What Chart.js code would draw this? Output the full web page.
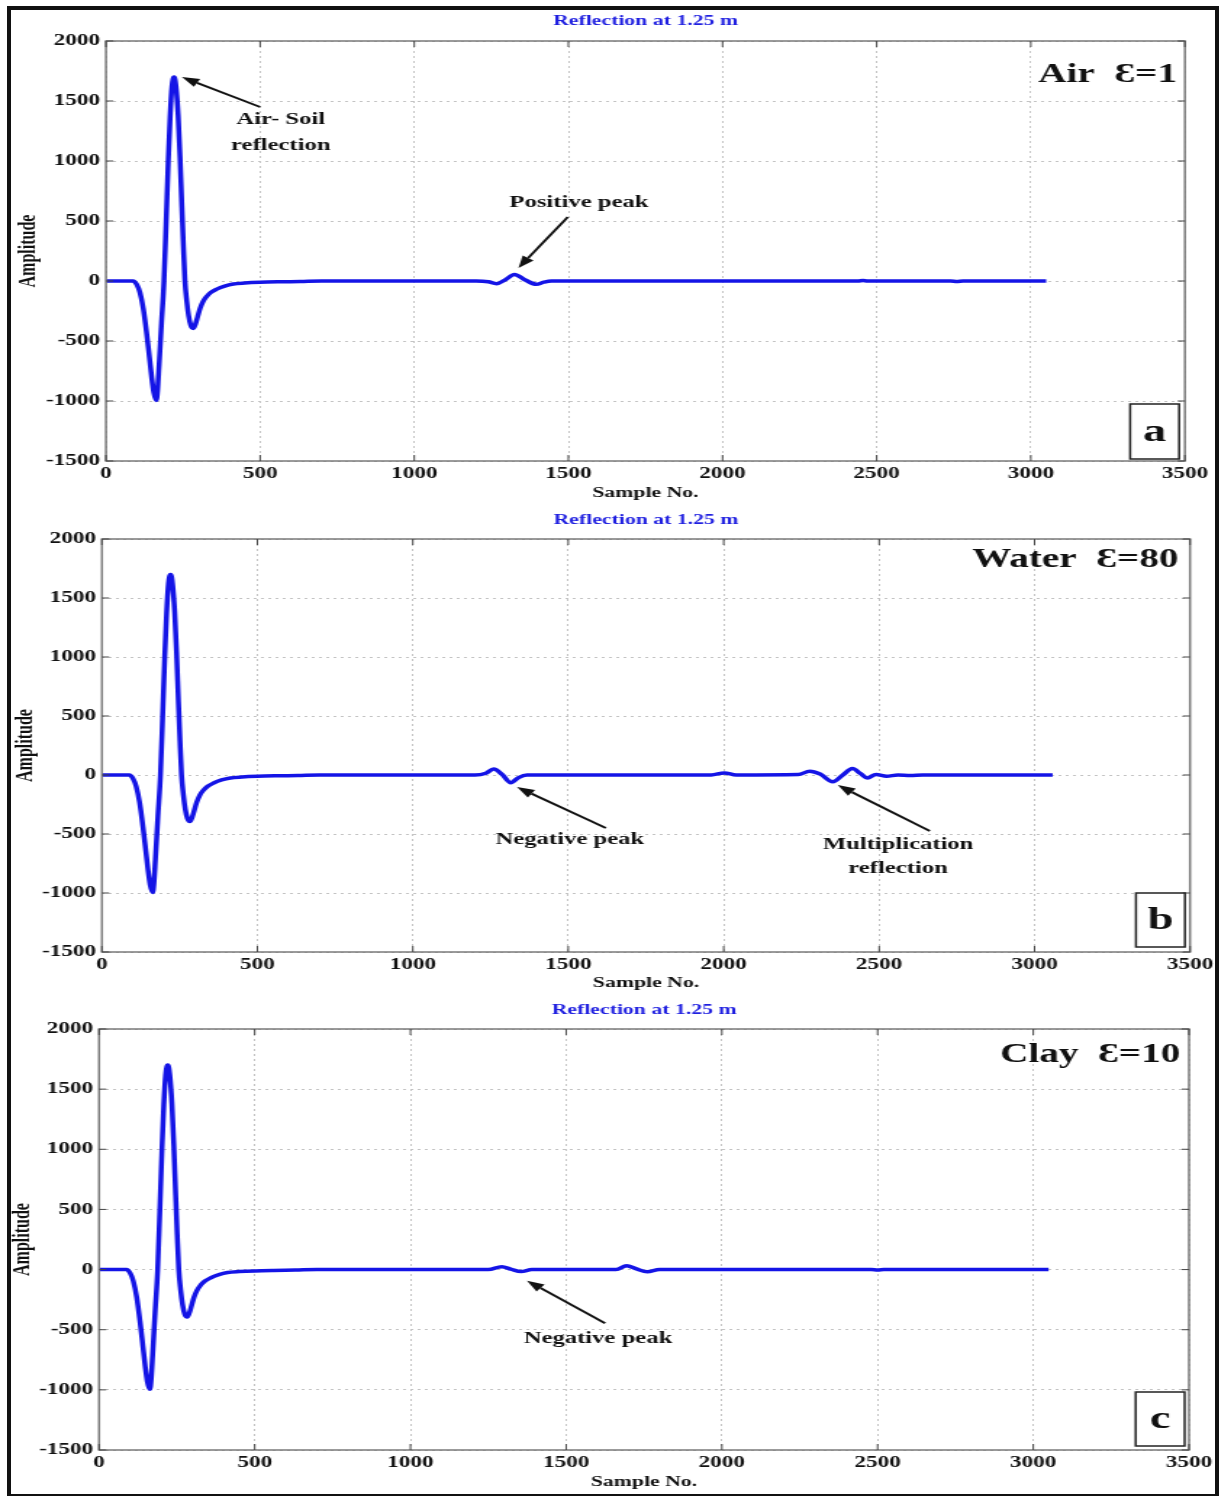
<!DOCTYPE html>
<html>
<head>
<meta charset="utf-8">
<script src="https://cdn.jsdelivr.net/npm/chart.js@4.4.0/dist/chart.umd.min.js"></script>
<style>
    html, body { margin: 0; padding: 0; background: #fff; }
    body { width: 1220px; height: 1496px; position: relative; overflow: hidden; }
    /* the source figure is stretched sideways, so every panel is drawn narrow and widened */
    .panel { position: absolute; left: 0; transform: scaleX(1.45); transform-origin: 0 0; }
    .panel canvas { display: block; }
    #frame { position: absolute; left: 7px; top: 6px; width: 1212px; height: 1492px; border: 4px solid #111; box-sizing: border-box; pointer-events: none; }
</style>
</head>
<body>
<div class="panel" style="top: 0px;"><canvas id="chartAir" width="842" height="504"></canvas></div>
<div class="panel" style="top: 504px;"><canvas id="chartWater" width="842" height="494"></canvas></div>
<div class="panel" style="top: 998px;"><canvas id="chartClay" width="842" height="498"></canvas></div>
<div id="frame"></div>
<script>
const xTicks = [0, 500, 1000, 1500, 2000, 2500, 3000, 3500];
const yTicks = [-1500, -1000, -500, 0, 500, 1000, 1500, 2000];
const chartTitle = 'Reflection at 1.25 m';
const xTitle = 'Sample No.';
const yTitle = 'Amplitude';

// direct air-soil wavelet (same in the three traces)
const directSamples = [0, 60, 88, 100, 110, 121, 132, 141, 148, 155, 163, 167, 172, 180, 188, 195, 202, 208, 214, 221,
    227, 234, 240, 246, 251, 256, 262, 268, 275, 283, 290, 297, 305, 315, 326, 340, 359, 385, 413, 450, 500, 560, 630, 700];
const directAmps = [0, 0, 0, -30, -95, -230, -440, -640, -800, -930, -995, -920, -710, -350, -10, 480, 1000, 1370, 1620, 1700,
    1620, 1380, 1040, 620, 290, 0, -170, -290, -370, -395, -360, -300, -230, -170, -130, -95, -68, -42, -25, -17, -11, -7, -4, 0];

// rest of each trace
const airSamples = [1200, 1240, 1267, 1296, 1325, 1360, 1396, 1420, 1445, 2440, 2455, 2470, 2740, 2760, 2780, 3050];
const airAmps = [0, -6, -22, 12, 55, 8, -28, -10, 0, 0, 4, 0, 0, -4, 0, 0];

const waterSamples = [1200, 1235, 1260, 1287, 1315, 1340, 1367, 1960, 2002, 2040, 2240, 2277, 2310, 2351, 2383, 2414,
    2440, 2462, 2490, 2524, 2560, 2600, 2640, 3058];
const waterAmps = [0, 15, 50, 5, -65, -22, 0, 0, 18, 0, 4, 32, 8, -57, 0, 55, 12, -25, 5, -10, 0, -5, 0, 0];

const claySamples = [1250, 1293, 1322, 1355, 1390, 1660, 1694, 1726, 1760, 1800, 2480, 2500, 2520, 3049];
const clayAmps = [0, 24, 4, -17, 0, 0, 32, 5, -18, 0, 0, -3, 0, 0];

const SERIF = "'Liberation Serif', 'Times New Roman', serif";
const LINE_BLUE = '#1414e6';
const CANVAS_W = 842;

function trace(xs, ys) {
    return directSamples.map((x, i) => ({ x, y: directAmps[i] }))
        .concat(xs.map((x, i) => ({ x, y: ys[i] })));
}

const panels = [
    {
        id: 'chartAir', height: 504, areaTop: 41, areaBottom: 461, areaLeft: 73.1, areaRight: 817.2,
        titleY: 21, xTitleY: 493, yTitleX: 19.7,
        points: trace(airSamples, airAmps),
        material: 'Air  Ɛ=1', matInset: 5.5, matDy: 34,
        letter: 'a', boxInset: [4, 2], boxSize: [33.8, 55],
        notes: [
            { text: 'Air- Soil', x: 567, y: 1342 },
            { text: 'reflection', x: 567, y: 1125 },
            { text: 'Positive peak', x: 1534, y: 650 }
        ],
        arrows: [
            { from: [500, 1450], to: [246, 1700] },
            { from: [1498, 533], to: [1338, 108] }
        ]
    },
    {
        id: 'chartWater', height: 494, areaTop: 35, areaBottom: 448, areaLeft: 70.3, areaRight: 820.7,
        titleY: 16, xTitleY: 479, yTitleX: 17.8,
        points: trace(waterSamples, waterAmps),
        material: 'Water  Ɛ=80', matInset: 8, matDy: 21,
        letter: 'b', boxInset: [3.5, 5], boxSize: [33.8, 54],
        notes: [
            { text: 'Negative peak', x: 1505, y: -551 },
            { text: 'Multiplication', x: 2561, y: -589 },
            { text: 'reflection', x: 2561, y: -792 }
        ],
        arrows: [
            { from: [1621, -449], to: [1335, -102] },
            { from: [2663, -475], to: [2367, -85] }
        ]
    },
    {
        id: 'chartClay', height: 498, areaTop: 31, areaBottom: 452, areaLeft: 68.3, areaRight: 820,
        titleY: 12, xTitleY: 484, yTitleX: 16.2,
        points: trace(claySamples, clayAmps),
        material: 'Clay  Ɛ=10', matInset: 6, matDy: 26,
        letter: 'c', boxInset: [3, 4], boxSize: [33.8, 54],
        notes: [
            { text: 'Negative peak', x: 1602, y: -573 }
        ],
        arrows: [
            { from: [1625, -446], to: [1374, -92] }
        ]
    }
];

const panelDecor = {
    id: 'panelDecor',
    afterDatasetsDraw(chart, args, p) {
        const { ctx, chartArea: a, scales: { x, y } } = chart;
        ctx.save();

        // axes box and inward ticks
        ctx.strokeStyle = '#7a7a7a';
        ctx.lineWidth = 1.5;
        ctx.strokeRect(a.left, a.top, a.right - a.left, a.bottom - a.top);
        ctx.strokeStyle = '#444';
        ctx.lineWidth = 1;
        ctx.beginPath();
        xTicks.forEach(v => {
            const px = x.getPixelForValue(v);
            ctx.moveTo(px, a.bottom); ctx.lineTo(px, a.bottom - 6);
            ctx.moveTo(px, a.top); ctx.lineTo(px, a.top + 6);
        });
        yTicks.forEach(v => {
            const py = y.getPixelForValue(v);
            ctx.moveTo(a.left, py); ctx.lineTo(a.left + 5, py);
            ctx.moveTo(a.right, py); ctx.lineTo(a.right - 5, py);
        });
        ctx.stroke();

        // material label
        ctx.fillStyle = '#111';
        ctx.font = `bold 27px ${SERIF}`;
        ctx.textAlign = 'right';
        ctx.textBaseline = 'middle';
        ctx.fillText(p.material, a.right - p.matInset, a.top + p.matDy);

        // panel letter in its box
        const [bw, bh] = p.boxSize;
        const bx = a.right - p.boxInset[0] - bw;
        const by = a.bottom - p.boxInset[1] - bh;
        ctx.fillStyle = '#fff';
        ctx.fillRect(bx, by, bw, bh);
        ctx.strokeStyle = '#222';
        ctx.lineWidth = 1.5;
        ctx.strokeRect(bx, by, bw, bh);
        ctx.fillStyle = '#111';
        ctx.font = `bold 32px ${SERIF}`;
        ctx.textAlign = 'center';
        ctx.fillText(p.letter, bx + bw / 2, by + bh / 2 + 1);

        // annotation texts
        ctx.font = `bold 17px ${SERIF}`;
        p.notes.forEach(n => {
            ctx.fillText(n.text, x.getPixelForValue(n.x), y.getPixelForValue(n.y));
        });

        // arrows
        ctx.strokeStyle = '#111';
        ctx.fillStyle = '#111';
        ctx.lineWidth = 2;
        p.arrows.forEach(ar => {
            const x0 = x.getPixelForValue(ar.from[0]), y0 = y.getPixelForValue(ar.from[1]);
            const x1 = x.getPixelForValue(ar.to[0]), y1 = y.getPixelForValue(ar.to[1]);
            const ang = Math.atan2(y1 - y0, x1 - x0);
            const hl = 12, hw = 4.5;
            const bxp = x1 - hl * Math.cos(ang), byp = y1 - hl * Math.sin(ang);
            ctx.beginPath();
            ctx.moveTo(x0, y0);
            ctx.lineTo(bxp, byp);
            ctx.stroke();
            ctx.beginPath();
            ctx.moveTo(x1, y1);
            ctx.lineTo(bxp + hw * Math.sin(ang), byp - hw * Math.cos(ang));
            ctx.lineTo(bxp - hw * Math.sin(ang), byp + hw * Math.cos(ang));
            ctx.closePath();
            ctx.fill();
        });

        ctx.restore();
    }
};

panels.forEach(p => {
    const tickFont = { family: SERIF, size: 16, weight: 'bold' };
    new Chart(document.getElementById(p.id), {
        type: 'line',
        data: {
            datasets: [{
                data: p.points,
                borderColor: LINE_BLUE,
                borderWidth: 3.5,
                pointRadius: 0,
                cubicInterpolationMode: 'monotone',
                fill: false
            }]
        },
        options: {
            responsive: false,
            animation: false,
            devicePixelRatio: 1,
            events: [],
            layout: { padding: { left: 0, top: 0, right: CANVAS_W - p.areaRight, bottom: 0 } },
            plugins: {
                legend: { display: false },
                tooltip: { enabled: false },
                title: {
                    display: true,
                    fullSize: false,
                    text: chartTitle,
                    color: '#1f1fe0',
                    font: { family: SERIF, size: 15, weight: 'bold' },
                    padding: { top: p.titleY - 9, bottom: p.areaTop - p.titleY - 9 }
                },
                panelDecor: p
            },
            scales: {
                x: {
                    type: 'linear',
                    min: 0,
                    max: 3500,
                    afterBuildTicks: s => { s.ticks = xTicks.map(v => ({ value: v })); },
                    afterFit: s => { s.height = p.height - p.areaBottom; },
                    ticks: { color: '#111', font: tickFont, padding: 3, maxRotation: 0, autoSkip: false, callback: v => String(v) },
                    grid: { color: '#c4c4c4', lineWidth: 1, drawTicks: false },
                    border: { display: false, dash: [2, 3] },
                    title: {
                        display: true, text: xTitle, color: '#111',
                        font: { family: SERIF, size: 15, weight: 'bold' },
                        padding: { top: 0, bottom: p.height - p.xTitleY - 9 }
                    }
                },
                y: {
                    type: 'linear',
                    min: -1500,
                    max: 2000,
                    afterBuildTicks: s => { s.ticks = yTicks.map(v => ({ value: v })); },
                    afterFit: s => { s.width = p.areaLeft; },
                    ticks: { color: '#111', font: tickFont, padding: 4, autoSkip: false, callback: v => String(v) },
                    grid: { color: '#c4c4c4', lineWidth: 1, drawTicks: false },
                    border: { display: false, dash: [2, 3] },
                    title: {
                        display: true, text: yTitle, color: '#111',
                        font: { family: SERIF, size: 16, weight: 'bold' },
                        padding: { top: p.yTitleX - 9.6, bottom: 0 }
                    }
                }
            }
        },
        plugins: [panelDecor]
    });
});
</script>
</body>
</html>
